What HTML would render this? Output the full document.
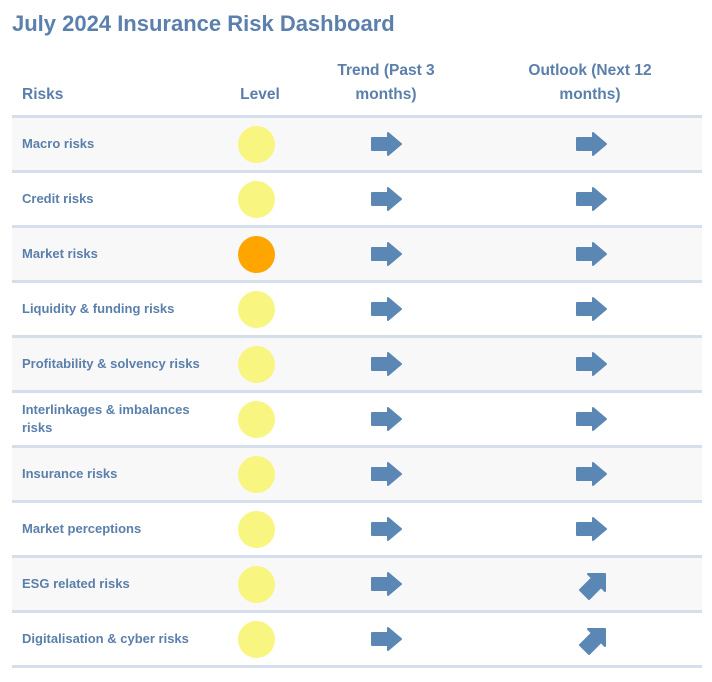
<!DOCTYPE html>
<html><head><style>
body{margin:0;width:712px;height:682px;background:#fff;font-family:"Liberation Sans",sans-serif;color:#5a7fab;position:relative;overflow:hidden}
.t{position:absolute;left:12px;top:11px;font-size:22px;font-weight:bold;color:#5b80ad}
.h{position:absolute;font-size:15.5px;font-weight:bold;text-align:center;line-height:24px}
.row{position:absolute;left:12px;width:690px;height:52px;border-top:3px solid #d5deeb}
.row.g{background:#f8f8f8}
.lab{position:absolute;left:10px;top:0;height:52px;display:flex;align-items:center;font-size:13px;font-weight:bold;line-height:18px;width:200px}
.c{position:absolute;left:226px;top:8px;width:37px;height:37px;border-radius:50%;background:#f8f580}
.c.o{background:#ffa500}
svg{position:absolute;top:14px}
.end{position:absolute;left:12px;top:665px;width:690px;height:3px;background:#d5deeb}
</style></head><body>
<div class="t">July 2024 Insurance Risk Dashboard</div>
<div class="h" style="left:22px;top:83px;text-align:left">Risks</div>
<div class="h" style="left:230px;top:83px;width:60px">Level</div>
<div class="h" style="left:316px;top:59px;width:140px">Trend (Past 3<br>months)</div>
<div class="h" style="left:500px;top:59px;width:180px">Outlook (Next 12<br>months)</div>
<div id="rows"></div>
<div class="end"></div>
<script>
var d=[["Macro risks",0,0],["Credit risks",0,0],["Market risks",1,0],["Liquidity &amp; funding risks",0,0],["Profitability &amp; solvency risks",0,0],["Interlinkages &amp; imbalances<br>risks",0,0],["Insurance risks",0,0],["Market perceptions",0,0],["ESG related risks",0,1],["Digitalisation &amp; cyber risks",0,1]];
var R='<path d="M2 6h16V1l13 11-13 11v-5H2z" fill="#5b87b4" stroke="#5b87b4" stroke-width="2" stroke-linejoin="round"/>';
var U='<path d="M3 23l12-12-4-4h17v17l-4-4-12 12z" fill="#5b87b4" stroke="#5b87b4" stroke-width="2" stroke-linejoin="round"/>';
var h='';
d.forEach(function(r,i){
h+='<div class="row'+(i%2==0?' g':'')+'" style="top:'+(115+i*55)+'px"><div class="lab">'+r[0]+'</div><div class="c'+(r[1]?' o':'')+'"></div>'+
'<svg style="left:358px" width="34" height="26" viewBox="0 0 34 26">'+R+'</svg>'+
(r[2]?'<svg style="left:565px;top:9px" width="34" height="36" viewBox="0 0 34 36">'+U+'</svg>':'<svg style="left:563px" width="34" height="26" viewBox="0 0 34 26">'+R+'</svg>')+'</div>';
});
document.getElementById('rows').innerHTML=h;
</script>
</body></html>
